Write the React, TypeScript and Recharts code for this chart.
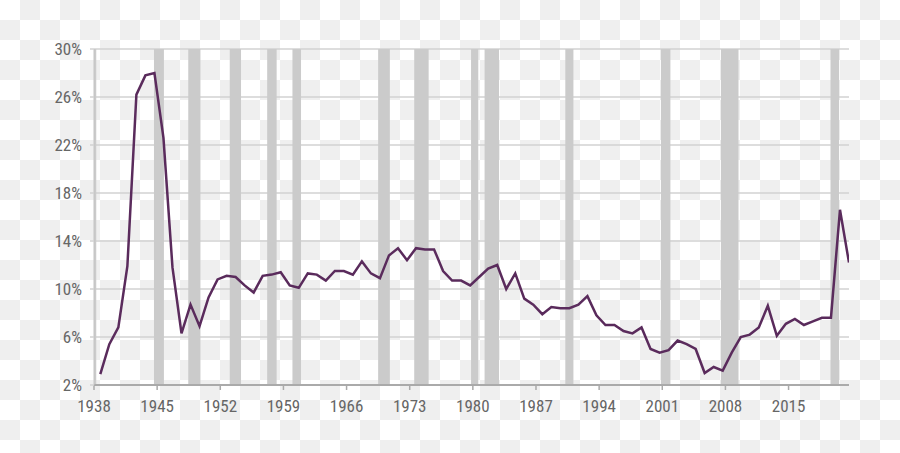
import React from "react";
import { LineChart, Line, XAxis, YAxis, CartesianGrid, ReferenceArea } from "recharts";

// Personal saving rate, annual, 1938-2021 (%)
const years: number[] = Array.from({ length: 84 }, (_, i) => 1938 + i);
const savingRate: number[] = [
  2.9, 5.4, 6.8, 11.9, 26.2, 27.8, 28.0, 22.6, 11.8, 6.3,
  8.7, 6.9, 9.3, 10.8, 11.1, 11.0, 10.3, 9.7, 11.1, 11.2,
  11.4, 10.3, 10.1, 11.3, 11.2, 10.7, 11.5, 11.5, 11.2, 12.3,
  11.3, 10.9, 12.8, 13.4, 12.4, 13.4, 13.3, 13.3, 11.5, 10.7,
  10.7, 10.3, 11.0, 11.7, 12.0, 10.0, 11.3, 9.2, 8.7, 7.9,
  8.5, 8.4, 8.4, 8.7, 9.4, 7.8, 7.0, 7.0, 6.5, 6.3,
  6.8, 5.0, 4.7, 4.9, 5.7, 5.4, 5.0, 3.0, 3.5, 3.2,
  4.7, 6.0, 6.2, 6.8, 8.6, 6.1, 7.1, 7.5, 7.0, 7.3,
  7.6, 7.6, 16.6, 12.2,
];
// Position of each annual observation inside its year
const obsWithinYear = 0.7;

// Recession periods (shaded)
const recessionStarts: number[] = [1937.5, 1944.65, 1948.45, 1953.05, 1957.2, 1960.0, 1969.5, 1973.5, 1979.8, 1981.3, 1990.25, 2000.85, 2007.5, 2019.65];
const recessionEnds: number[] = [1938.25, 1945.75, 1949.8, 1954.3, 1958.25, 1960.95, 1970.8, 1975.1, 1980.6, 1982.9, 1991.15, 2001.9, 2009.45, 2020.6];

const xTicks: number[] = [1938, 1945, 1952, 1959, 1966, 1973, 1980, 1987, 1994, 2001, 2008, 2015];
const yTicks: number[] = [2, 6, 10, 14, 18, 22, 26, 30];

const data = years.map((y, i) => ({ t: y + obsWithinYear, rate: savingRate[i] }));

const FONT = "'Liberation Sans Narrow', 'Roboto Condensed', 'Open Sans', sans-serif";

export default function App() {
  return (
    <div
      style={{
        position: "absolute",
        left: 0,
        top: 0,
        width: 900,
        height: 453,
        backgroundImage: "repeating-conic-gradient(#efefef 0 25%, #ffffff 0 50%)",
        backgroundSize: "40px 40px",
        backgroundPosition: "0 0",
      }}
    >
      <LineChart width={900} height={453} data={data} margin={{ top: 49, right: 51, bottom: 38, left: 0 }}>
        {recessionStarts.map((s, i) => (
          <ReferenceArea
            key={i}
            x1={Math.max(s, 1938)}
            x2={recessionEnds[i]}
            fill="#cbcbcb"
            fillOpacity={1}
            stroke="none"
            ifOverflow="hidden"
          />
        ))}
        <CartesianGrid horizontal vertical={false} stroke="#d2d2d2" strokeWidth={1.5} />
        <XAxis
          dataKey="t"
          type="number"
          domain={[1938, 2021.7]}
          ticks={xTicks}
          allowDataOverflow
          axisLine={{ stroke: "#aaaaaa", strokeWidth: 2 }}
          tickLine={{ stroke: "#aaaaaa", strokeWidth: 1.5 }}
          tickSize={5}
          tickMargin={10}
          tick={{ fill: "#666666", fontSize: 17, fontFamily: FONT }}
          height={30}
        />
        <YAxis
          type="number"
          domain={[2, 30]}
          ticks={yTicks}
          width={94}
          axisLine={{ stroke: "#c4c4c4", strokeWidth: 1 }}
          tickLine={{ stroke: "#d2d2d2", strokeWidth: 1.5 }}
          tickSize={4}
          tickMargin={8}
          tickFormatter={(v: number) => `${v}%`}
          tick={{ fill: "#666666", fontSize: 17, fontFamily: FONT }}
        />
        <Line
          type="linear"
          dataKey="rate"
          stroke="#5a2b5c"
          strokeWidth={2.5}
          dot={false}
          isAnimationActive={false}
        />
      </LineChart>
    </div>
  );
}
